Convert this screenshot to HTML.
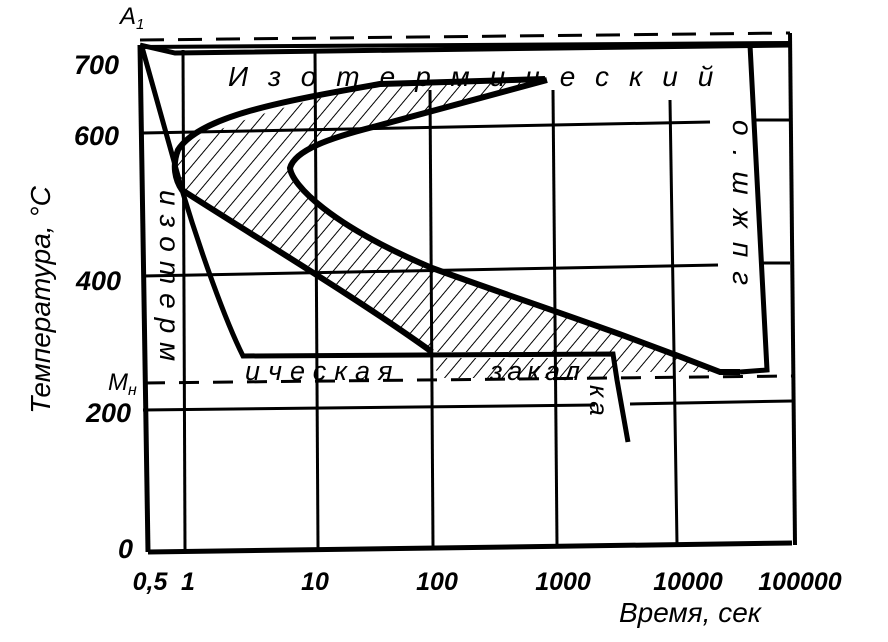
<!DOCTYPE html>
<html><head><meta charset="utf-8"><style>
html,body{margin:0;padding:0;background:#fff}
svg{display:block}
text{font-family:"Liberation Sans",sans-serif;font-style:italic;fill:#000}
</style></head><body>
<svg width="888" height="642" viewBox="0 0 888 642" xmlns="http://www.w3.org/2000/svg">
<defs>
<pattern id="h" patternUnits="userSpaceOnUse" width="11" height="11" patternTransform="rotate(40)">
<line x1="0" y1="0" x2="0" y2="11" stroke="#000" stroke-width="2"/>
</pattern>
</defs>
<path d="M175,160 C190,135 260,110 380,84 L545,78 L547,82 L373,127 C330,140 300,150 290,168 C292,185 330,225 432,268 C520,300 600,325 720,372 L620,372 L613,352 L432,352 C380,310 310,265 182,190 Z" fill="url(#h)"/>
<path d="M430,358 L612,358 L618,378 L440,378 Z" fill="url(#h)"/>
<g stroke="#000" fill="none">
<g stroke-width="3">
<line x1="183" y1="50" x2="185" y2="550"/>
<line x1="315" y1="50" x2="318" y2="548"/>
<line x1="430" y1="90" x2="433" y2="546"/>
<line x1="553" y1="90" x2="557" y2="545"/>
<line x1="670" y1="100" x2="677" y2="544"/>
<line x1="143" y1="133" x2="710" y2="122"/>
<line x1="143" y1="276" x2="718" y2="265"/>
<line x1="143" y1="410" x2="595" y2="405"/>
<line x1="630" y1="404" x2="792" y2="401"/>
<line x1="755" y1="120" x2="790" y2="120"/>
<line x1="760" y1="263" x2="790" y2="263"/>
</g>
<line x1="140" y1="45" x2="148" y2="552" stroke-width="5"/>
<line x1="148" y1="552" x2="792" y2="543" stroke-width="5"/>
<line x1="790" y1="33" x2="795" y2="545" stroke-width="4"/>
<line x1="140" y1="40" x2="790" y2="33" stroke-width="3" stroke-dasharray="24,14"/>
<line x1="145" y1="383" x2="792" y2="376" stroke-width="3" stroke-dasharray="20,14"/>
<path d="M140,45 L175,53 L790,45" stroke-width="5"/>
<line x1="140" y1="47" x2="790" y2="43" stroke-width="4"/>
<path d="M142,47 L182,190 C200,250 225,320 243,356 L613,354 L617,380 L628,442" stroke-width="5"/>
<path d="M545,79 L380,84 C290,100 200,115 178,150 C172,165 175,180 182,190 C260,240 360,300 432,352" stroke-width="6"/>
<path d="M547,80 L373,127 C330,138 295,150 290,168 C292,185 330,225 432,268 C520,300 600,325 720,372 L740,372" stroke-width="6"/>
<path d="M750,45 L767,370 L740,372" stroke-width="5"/>
</g>
<g font-size="27" font-weight="bold">
<text x="120" y="24" font-size="24" font-weight="normal">A<tspan font-size="15" dy="5">1</tspan></text>
<text x="74" y="74">700</text>
<text x="74" y="145">600</text>
<text x="76" y="290">400</text>
<text x="86" y="422">200</text>
<text x="108" y="390" font-size="24" font-weight="normal">M<tspan font-size="16" dy="5">н</tspan></text>
<text x="118" y="558">0</text>
</g>
<g font-size="25" font-weight="bold" text-anchor="middle">
<text x="150" y="590">0,5</text>
<text x="188" y="590">1</text>
<text x="315" y="590">10</text>
<text x="437" y="590">100</text>
<text x="563" y="590">1000</text>
<text x="688" y="590">10000</text>
<text x="800" y="590">100000</text>
</g>
<text x="690" y="622" font-size="28" text-anchor="middle">Время, сек</text>
<text transform="translate(50,300) rotate(-90)" font-size="28" text-anchor="middle">Температура, °C</text>
<text x="228" y="86" font-size="28" letter-spacing="20">Изотермический</text>
<text transform="translate(160,190) rotate(90)" font-size="28" letter-spacing="9">изотерм</text>
<text x="245" y="380" font-size="27" letter-spacing="8">ическая</text>
<text x="490" y="380" font-size="27" letter-spacing="5">закал</text>
<text transform="translate(590,385) rotate(90)" font-size="26" letter-spacing="4">ка</text>
<text transform="translate(733,120) rotate(90)" font-size="28" letter-spacing="14">о.шжпг</text>
</svg>
</body></html>
